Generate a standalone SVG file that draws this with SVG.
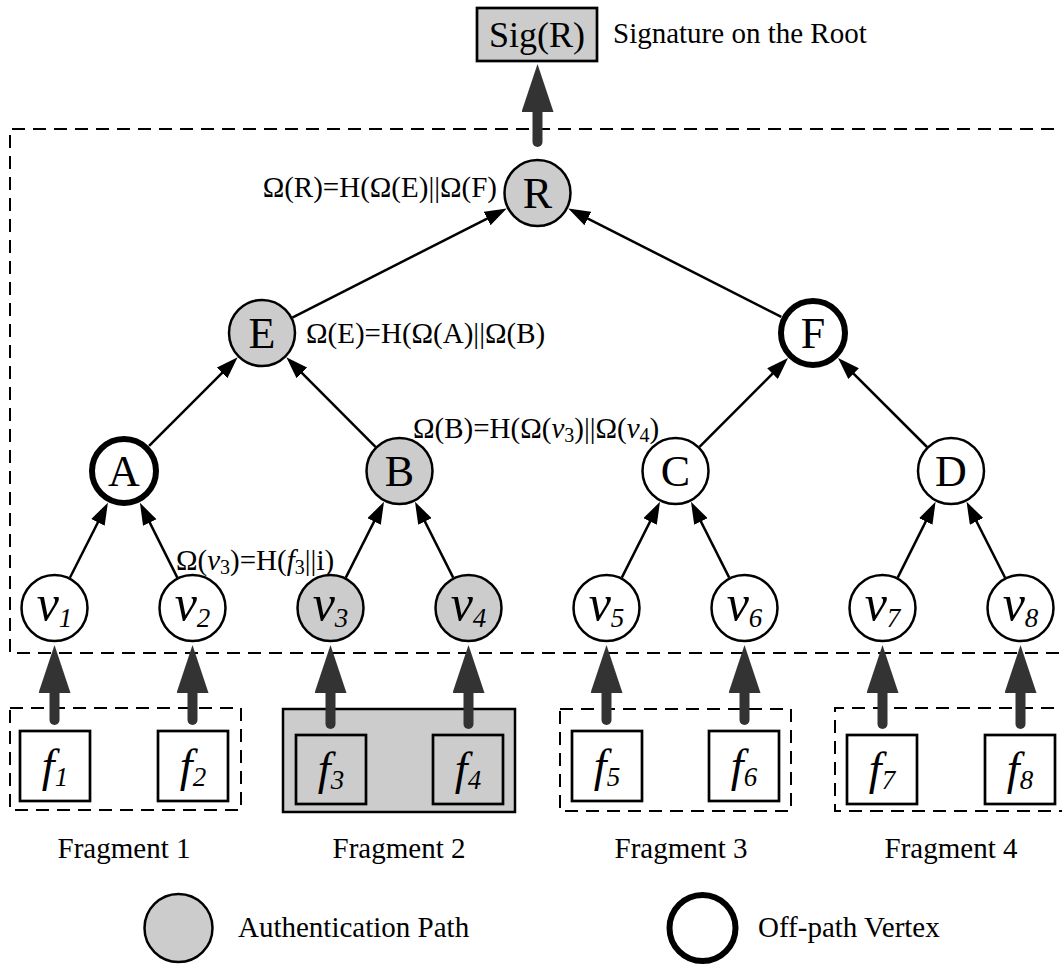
<svg xmlns="http://www.w3.org/2000/svg" width="1062" height="966" viewBox="0 0 1062 966">
<style>
text{font-family:"Liberation Serif","Times New Roman",serif;fill:#000}
.lbl{font-size:29px}
.nl{font-size:44px;text-anchor:middle}
.vl{font-size:50px;font-style:italic;text-anchor:middle}
.fl{font-size:46px;font-style:italic;text-anchor:middle}
.sub{font-size:27px}
.ssub{font-size:20px}
.it{font-style:italic}
.n{stroke:#000;stroke-width:2.5}
.g{fill:#cccccc}
.w{fill:#fff}
.thick{fill:#fff;stroke:#000;stroke-width:6}
.e{stroke:#000;stroke-width:2.5;fill:none;marker-end:url(#ah)}
.t{stroke:#333;stroke-width:10;stroke-linecap:round;fill:none;marker-end:url(#th)}
.dash{fill:none;stroke:#000;stroke-width:2;stroke-dasharray:13 8}
.box{stroke:#000;stroke-width:2.7}
</style>
<defs>
<marker id="ah" viewBox="0 0 22 15" refX="16" refY="7.5" markerWidth="22" markerHeight="15" markerUnits="userSpaceOnUse" orient="auto"><path d="M0,0 L22,7.5 L0,15 z" fill="#000"/></marker>
<marker id="th" viewBox="0 0 48 32" refX="1" refY="16" markerWidth="48" markerHeight="32" markerUnits="userSpaceOnUse" orient="auto"><path d="M0,0 L48,16 L0,32 z" fill="#333"/></marker>
</defs>
<rect width="1062" height="966" fill="#fff"/>

<g id="regions">
<path class="dash" d="M1075,129 H10 V653 H1075"/>
<rect class="dash" x="10" y="708" width="231" height="102"/>
<rect x="283" y="709" width="232" height="103" fill="#cccccc" stroke="#000" stroke-width="2.5"/>
<rect class="dash" x="560" y="709" width="231" height="102"/>
<path class="dash" d="M1075,708 H835 V811 H1075"/>
</g>

<g id="connectors">
<line class="e" x1="69.9" y1="577.7" x2="105.2" y2="508.0"/>
<line class="e" x1="177.3" y1="577.6" x2="142.6" y2="508.2"/>
<line class="e" x1="345.8" y1="577.6" x2="381.3" y2="507.2"/>
<line class="e" x1="453.2" y1="577.6" x2="417.7" y2="507.2"/>
<line class="e" x1="621.8" y1="577.6" x2="657.3" y2="507.2"/>
<line class="e" x1="729.2" y1="577.6" x2="693.7" y2="507.2"/>
<line class="e" x1="897.7" y1="577.6" x2="932.9" y2="507.2"/>
<line class="e" x1="1005.1" y1="577.7" x2="969.3" y2="507.2"/>
<line class="e" x1="149.1" y1="445.9" x2="233.4" y2="361.6"/>
<line class="e" x1="375.5" y1="446.9" x2="290.6" y2="361.6"/>
<line class="e" x1="699.5" y1="446.9" x2="783.8" y2="362.3"/>
<line class="e" x1="927.0" y1="447.0" x2="842.3" y2="362.3"/>
<line class="e" x1="292.3" y1="317.6" x2="501.4" y2="211.3"/>
<line class="e" x1="781.3" y1="316.9" x2="573.6" y2="211.3"/>
<line class="t" x1="537.5" y1="142" x2="537.5" y2="111"/>
<line class="t" x1="54.5" y1="720" x2="54.5" y2="692"/>
<line class="t" x1="192.5" y1="720" x2="192.5" y2="692"/>
<line class="t" x1="330.5" y1="724" x2="330.5" y2="692"/>
<line class="t" x1="468.5" y1="724" x2="468.5" y2="692"/>
<line class="t" x1="606.5" y1="720" x2="606.5" y2="692"/>
<line class="t" x1="744.5" y1="720" x2="744.5" y2="692"/>
<line class="t" x1="882.5" y1="724" x2="882.5" y2="692"/>
<line class="t" x1="1020.5" y1="724" x2="1020.5" y2="692"/>
</g>

<g id="sig">
<rect class="box g" x="477" y="8" width="120" height="53"/>
<text x="537" y="47" style="font-size:36px" text-anchor="middle">Sig(R)</text>
</g>
<text id="sig-label" class="lbl" x="613" y="43">Signature on the Root</text>

<g id="node-R"><circle class="n g" cx="537.5" cy="193" r="33"/><text class="nl" x="537.5" y="208">R</text></g>
<g id="node-E"><circle class="n g" cx="262" cy="333" r="33"/><text class="nl" x="262" y="348">E</text></g>
<g id="node-F"><circle class="thick" cx="813" cy="333" r="32"/><text class="nl" x="813" y="348">F</text></g>
<g id="node-A"><circle class="thick" cx="124" cy="471" r="32"/><text class="nl" x="124" y="486">A</text></g>
<g id="node-B"><circle class="n g" cx="399.5" cy="471" r="33"/><text class="nl" x="399.5" y="486">B</text></g>
<g id="node-C"><circle class="n w" cx="675.5" cy="471" r="33"/><text class="nl" x="675.5" y="486">C</text></g>
<g id="node-D"><circle class="n w" cx="951" cy="471" r="33"/><text class="nl" x="951" y="486">D</text></g>

<g id="node-v1"><circle class="n w" cx="54.5" cy="608" r="33"/><text class="vl" x="54.5" y="620">v<tspan class="sub" dy="7">1</tspan></text></g>
<g id="node-v2"><circle class="n w" cx="192.5" cy="608" r="33"/><text class="vl" x="192.5" y="620">v<tspan class="sub" dy="7">2</tspan></text></g>
<g id="node-v3"><circle class="n g" cx="330.5" cy="608" r="33"/><text class="vl" x="330.5" y="620">v<tspan class="sub" dy="7">3</tspan></text></g>
<g id="node-v4"><circle class="n g" cx="468.5" cy="608" r="33"/><text class="vl" x="468.5" y="620">v<tspan class="sub" dy="7">4</tspan></text></g>
<g id="node-v5"><circle class="n w" cx="606.5" cy="608" r="33"/><text class="vl" x="606.5" y="620">v<tspan class="sub" dy="7">5</tspan></text></g>
<g id="node-v6"><circle class="n w" cx="744.5" cy="608" r="33"/><text class="vl" x="744.5" y="620">v<tspan class="sub" dy="7">6</tspan></text></g>
<g id="node-v7"><circle class="n w" cx="882.5" cy="608" r="33"/><text class="vl" x="882.5" y="620">v<tspan class="sub" dy="7">7</tspan></text></g>
<g id="node-v8"><circle class="n w" cx="1020.5" cy="608" r="33"/><text class="vl" x="1020.5" y="620">v<tspan class="sub" dy="7">8</tspan></text></g>

<g id="node-f1"><rect class="box w" x="20" y="731" width="70" height="70"/><text class="fl" x="55" y="781">f<tspan class="sub" dy="5">1</tspan></text></g>
<g id="node-f2"><rect class="box w" x="158" y="731" width="70" height="70"/><text class="fl" x="193" y="781">f<tspan class="sub" dy="5">2</tspan></text></g>
<g id="node-f3"><rect class="box g" x="296" y="735" width="70" height="69"/><text class="fl" x="331" y="784">f<tspan class="sub" dy="5">3</tspan></text></g>
<g id="node-f4"><rect class="box g" x="433" y="735" width="70" height="69"/><text class="fl" x="468" y="784">f<tspan class="sub" dy="5">4</tspan></text></g>
<g id="node-f5"><rect class="box w" x="572" y="731" width="70" height="70"/><text class="fl" x="607" y="781">f<tspan class="sub" dy="5">5</tspan></text></g>
<g id="node-f6"><rect class="box w" x="709" y="731" width="70" height="70"/><text class="fl" x="744" y="781">f<tspan class="sub" dy="5">6</tspan></text></g>
<g id="node-f7"><rect class="box w" x="847" y="735" width="70" height="69"/><text class="fl" x="882" y="784">f<tspan class="sub" dy="5">7</tspan></text></g>
<g id="node-f8"><rect class="box w" x="985" y="735" width="70" height="69"/><text class="fl" x="1020" y="784">f<tspan class="sub" dy="5">8</tspan></text></g>

<g id="formulas">
<text class="lbl" x="497" y="197" text-anchor="end">Ω(R)=H(Ω(E)||Ω(F)</text>
<text class="lbl" x="306" y="343">Ω(E)=H(Ω(A)||Ω(B)</text>
<text class="lbl" x="413" y="438">Ω(B)=H(Ω(<tspan class="it">v</tspan><tspan class="ssub" dy="4">3</tspan><tspan dy="-4">)||Ω(</tspan><tspan class="it">v</tspan><tspan class="ssub" dy="4">4</tspan><tspan dy="-4">)</tspan></text>
<text class="lbl" x="176" y="570">Ω(<tspan class="it">v</tspan><tspan class="ssub" dy="4">3</tspan><tspan dy="-4">)=H(</tspan><tspan class="it">f</tspan><tspan class="ssub" dy="4">3</tspan><tspan dy="-4">||i)</tspan></text>
</g>

<g id="fragment-labels">
<text class="lbl" x="124" y="858" text-anchor="middle">Fragment 1</text>
<text class="lbl" x="399" y="858" text-anchor="middle">Fragment 2</text>
<text class="lbl" x="681" y="858" text-anchor="middle">Fragment 3</text>
<text class="lbl" x="951" y="858" text-anchor="middle">Fragment 4</text>
</g>

<g id="legend-auth"><circle class="n g" cx="178.5" cy="928" r="34"/><text class="lbl" x="238" y="937">Authentication Path</text></g>
<g id="legend-off"><circle class="thick" cx="702.5" cy="928" r="33"/><text class="lbl" x="758" y="937">Off-path Vertex</text></g>
</svg>
